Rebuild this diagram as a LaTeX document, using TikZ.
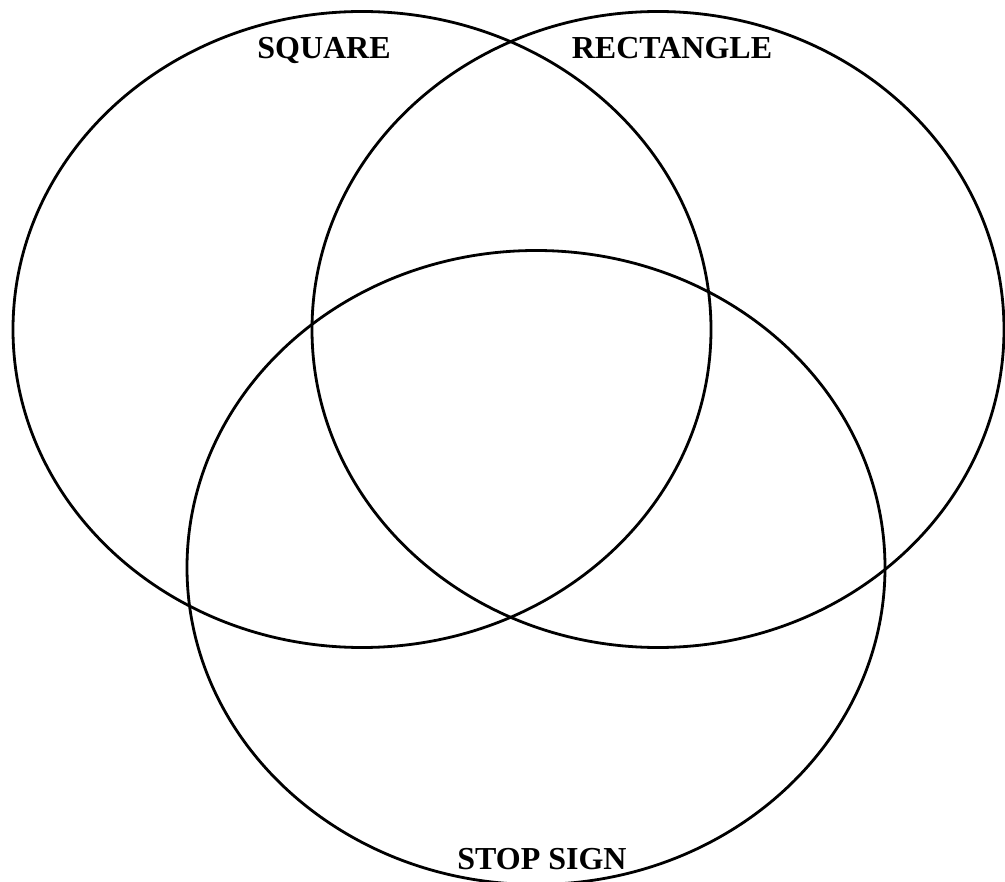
\documentclass[tikz,border=0pt]{standalone}
\usepackage{fontspec}
\setmainfont{Liberation Serif}
\begin{document}
\begin{tikzpicture}[x=1pt,y=-1pt,
  venn/.style={draw=black,line width=2.8pt},
  lbl/.style={font=\fontsize{32}{38}\selectfont\bfseries,anchor=base,inner sep=0pt}]
\useasboundingbox (0,0) rectangle (1005,882);
\clip (0,0) rectangle (1005,882);
\draw[venn] (362,329.5) ellipse [x radius=349, y radius=318];
\draw[venn] (658,329.5) ellipse [x radius=346, y radius=318];
\draw[venn] (536,567.5) ellipse [x radius=349, y radius=317];
\node[lbl] (sq) at (324,59) {SQUARE};
\node[lbl] (rect) at (672,59) {RECTANGLE};
\node[lbl] (stop) at (542,869) {STOP SIGN};
\end{tikzpicture}
\end{document}
